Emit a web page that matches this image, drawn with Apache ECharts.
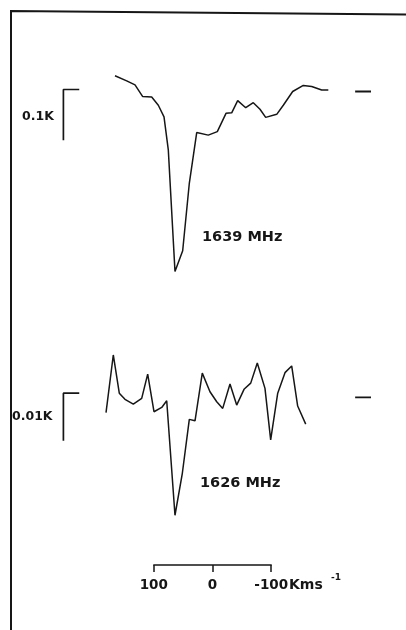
<!DOCTYPE html>
<html><head><meta charset="utf-8">
<script src="https://cdn.jsdelivr.net/npm/echarts@6/dist/echarts.min.js"></script>
<style>html,body{margin:0;padding:0;background:#fff}#c{width:406px;height:630px}</style>
</head><body><div id="c"></div>
<script>
// ---- data (velocity in km/s, antenna temperature in K) ----
const v1639 = [166.1,146.2,132.0,118.9,103.6,92.3,82.6,75.3,63.9,50.8,39.5,26.9,7.2,-8.2,-23.0,-32.7,-42.9,-56.6,-69.5,-80.9,-90.6,-109.4,-120.6,-136.6,-154.7,-169.0,-186.0,-197.3];
const t1639 = [0.028,0.018,0.010,-0.013,-0.014,-0.030,-0.053,-0.118,-0.358,-0.317,-0.184,-0.084,-0.089,-0.082,-0.046,-0.045,-0.021,-0.035,-0.025,-0.038,-0.054,-0.048,-0.030,-0.003,0.009,0.007,0.000,0.000];
const v1626 = [181.4,169.0,158.8,149.1,134.9,120.6,110.4,99.7,86.5,78.0,63.9,51.4,39.5,29.8,17.4,4.3,-7.2,-17.4,-29.8,-41.2,-53.7,-65.1,-76.3,-89.4,-99.1,-111.1,-123.5,-134.9,-145.1,-158.8];
const t1626 = [-0.0035,0.0086,0.0006,-0.0007,-0.0017,-0.0005,0.0046,-0.0033,-0.0024,-0.0010,-0.0250,-0.0162,-0.0049,-0.0052,0.0048,0.0009,-0.0012,-0.0026,0.0025,-0.0019,0.0014,0.0027,0.0069,0.0016,-0.0092,0.0006,0.0049,0.0063,-0.0021,-0.0059];
// baseline markers (short dash at right)
const baseMarkV = [-243, -270];
const base1639 = -0.003;
const base1626 = -0.0003;
// intensity scale bars
const scaleBarV = [227, 254];          // hook start, bar position
const scaleBar1639 = [0.001, -0.099];  // 0.1 K
const scaleBar1626 = [0.0006, -0.0094]; // 0.01 K
const scaleLabels = ['0.1K', '0.01K'];
const lineLabels = ['1639 MHz', '1626 MHz'];
// velocity scale
const velTicks = [100, 0, -100];
const velUnit = 'Kms';

// ---- layout ----
const PX_PER_KMS = 0.587, X_ZERO = 212.5;
const X_MIN = -300, X_MAX = 350;
const gLeft = X_ZERO - PX_PER_KMS * X_MAX;
const gWidth = PX_PER_KMS * (X_MAX - X_MIN);
const P1 = {zero: 90, pxPerK: 507, max: 0.06, min: -0.4};
const P2 = {zero: 396, pxPerK: 4770, max: 0.012, min: -0.03};
function gridFor(p){ return {left: gLeft, width: gWidth, top: p.zero - p.max*p.pxPerK, height: (p.max-p.min)*p.pxPerK}; }

const INK = '#161616';
const FONT = 'DejaVu Sans';

function zip(a,b){ return a.map((x,i)=>[x,b[i]]); }
function barData(bar){ return [[scaleBarV[0], bar[0]],[scaleBarV[1], bar[0]],[scaleBarV[1], bar[1]]]; }
function lineS(idx, data, w){
  return {type:'line', xAxisIndex: idx, yAxisIndex: idx, data, showSymbol:false, symbol:'none',
    lineStyle:{color:INK, width:w}, silent:true, animation:false, z:3};
}

const chart = echarts.init(document.getElementById('c'), null, {renderer:'canvas'});
chart.setOption({
  backgroundColor:'#fff',
  animation:false,
  grid:[
    gridFor(P1),
    gridFor(P2),
    {left: X_ZERO - PX_PER_KMS*100, width: PX_PER_KMS*200, top: 564, height: 1}
  ],
  xAxis:[
    {gridIndex:0, type:'value', min:X_MIN, max:X_MAX, inverse:true, show:false},
    {gridIndex:1, type:'value', min:X_MIN, max:X_MAX, inverse:true, show:false},
    {gridIndex:2, type:'value', min:-100, max:100, interval:100, inverse:true, position:'bottom',
      axisLine:{show:true, lineStyle:{color:INK, width:1.5}},
      axisTick:{show:true, inside:false, length:7, lineStyle:{color:INK, width:1.5}},
      splitLine:{show:false},
      axisLabel:{show:true, margin:13, color:INK, fontFamily:FONT, fontWeight:'bold', fontSize:13.5,
        formatter: v => velTicks.includes(v) ? String(v) : ''}
    }
  ],
  yAxis:[
    {gridIndex:0, type:'value', min:P1.min, max:P1.max, show:false},
    {gridIndex:1, type:'value', min:P2.min, max:P2.max, show:false},
    {gridIndex:2, type:'value', min:0, max:1, show:false}
  ],
  series:[
    lineS(0, zip(v1639, t1639), 1.5),
    lineS(0, baseMarkV.map(v=>[v, base1639]), 1.8),
    lineS(0, barData(scaleBar1639), 1.7),
    lineS(1, zip(v1626, t1626), 1.5),
    lineS(1, baseMarkV.map(v=>[v, base1626]), 1.8),
    lineS(1, barData(scaleBar1626), 1.7)
  ],
  graphic:[
    {type:'polyline', silent:true, shape:{points:[[11,630],[11,11],[406,14.5]]}, style:{stroke:INK, lineWidth:2, fill:null}},
    {type:'text', silent:true, x:22, y:117, style:{text:scaleLabels[0], fill:INK, font:'bold 12.5px "DejaVu Sans"', textAlign:'left', textVerticalAlign:'middle'}},
    {type:'text', silent:true, x:12, y:417, style:{text:scaleLabels[1], fill:INK, font:'bold 12.5px "DejaVu Sans"', textAlign:'left', textVerticalAlign:'middle'}},
    {type:'text', silent:true, x:202, y:237, style:{text:lineLabels[0], fill:INK, font:'bold 14.5px "DejaVu Sans"', textAlign:'left', textVerticalAlign:'middle'}},
    {type:'text', silent:true, x:200, y:483, style:{text:lineLabels[1], fill:INK, font:'bold 14.5px "DejaVu Sans"', textAlign:'left', textVerticalAlign:'middle'}},
    {type:'text', silent:true, x:289, y:585, style:{text:velUnit, fill:INK, font:'bold 14px "DejaVu Sans"', textAlign:'left', textVerticalAlign:'middle'}},
    {type:'text', silent:true, x:331, y:578, style:{text:'-1', fill:INK, font:'bold 9px "DejaVu Sans"', textAlign:'left', textVerticalAlign:'middle'}}
  ]
});
</script></body></html>
